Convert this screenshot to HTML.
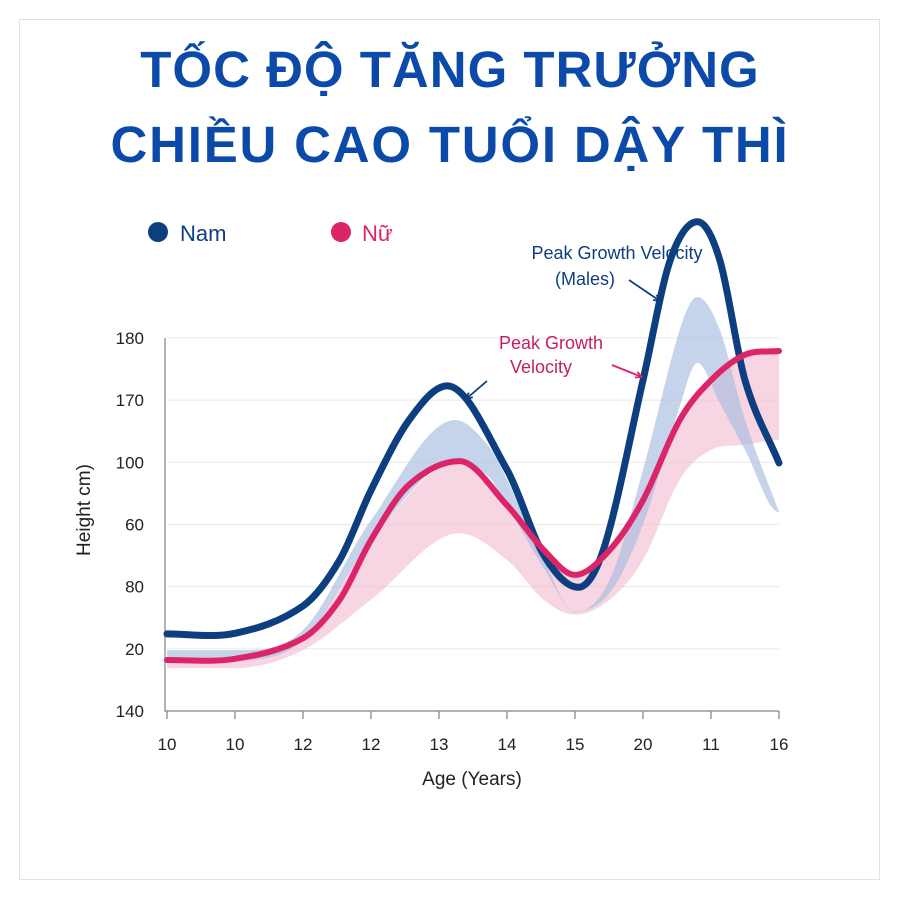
<!DOCTYPE html>
<html><head><meta charset="utf-8"><style>
html,body{margin:0;padding:0;background:#fff;}
body{width:900px;height:900px;position:relative;overflow:hidden;font-family:"Liberation Sans","DejaVu Sans",sans-serif;}
.card{position:absolute;left:19px;top:19px;width:861px;height:861px;border:1px solid #e2e2e2;box-sizing:border-box;}
.title{position:absolute;left:0;width:900px;text-align:center;color:#0b4aa8;font-weight:bold;font-size:51px;white-space:nowrap;}
</style></head><body>
<div class="card"></div>
<div class="title" style="top:40px;letter-spacing:1px">TỐC ĐỘ TĂNG TRƯỞNG</div>
<div class="title" style="top:115px;letter-spacing:1.8px">CHIỀU CAO TUỔI DẬY THÌ</div>
<svg id="chart" width="900" height="900" style="position:absolute;left:0;top:0"></svg>
<script>
const xLabels=["10","10","12","12","13","14","15","20","11","16"];
const yLabels=["140","20","80","60","100","170","180"];
const maleX=[0,1,2,2.54,3,3.56,4.12,5,5.54,6.05,6.44,7,7.4,7.8,8.13,8.5,9];
const maleY=[1.24,1.25,1.69,2.43,3.55,4.68,5.23,3.88,2.51,1.99,2.67,5.32,7.25,7.87,7.25,5.32,3.99];
const femX=[0,1,2,2.54,3,3.56,4.3,5,5.54,6,6.51,7,7.54,8,8.5,9];
const femY=[0.82,0.84,1.17,1.79,2.75,3.64,4.02,3.31,2.59,2.19,2.59,3.39,4.68,5.32,5.73,5.79];
const blueBandX=[0,1,2,3,4.24,4.7,5,5.54,6,6.51,7,7.54,7.8,8.13,8.5,9];
const blueHi=[0.98,0.98,1.3,3.07,4.68,4.3,3.72,2.43,1.59,2.11,3.88,6.13,6.66,6.13,4.68,3.2];
const blueLo=[0.82,0.82,1.14,2.75,3.99,3.8,3.3,2.3,1.6,1.9,3.0,4.9,5.6,4.95,4.2,3.2];
const pinkBandX=[0,1,2,3,4.3,5,5.54,6,6.51,7,7.54,8,8.5,9];
const pinkHi=[0.82,0.84,1.17,2.75,4.02,3.31,2.59,2.19,2.59,3.39,4.68,5.32,5.73,5.79];
const pinkLo=[0.69,0.69,0.98,1.79,2.86,2.43,1.79,1.55,1.79,2.43,3.72,4.2,4.28,4.36];
const svg=document.getElementById('chart');
const NS='http://www.w3.org/2000/svg';
const X0=167,XS=68,Y0=711,YS=62.17;
const sx=i=>X0+i*XS, sy=v=>Y0-v*YS;
function mk(t,a,p){const e=document.createElementNS(NS,t);for(const k in a)e.setAttribute(k,a[k]);(p||svg).appendChild(e);return e;}
function pts(xs,ys){return xs.map((x,i)=>[sx(x),sy(ys[i])]);}
function smooth(P,move){
 const n=P.length,m=[];
 for(let i=0;i<n;i++){
  if(i==0){m[i]=0;continue;}
  if(i==n-1){m[i]=(P[i][1]-P[i-1][1])/(P[i][0]-P[i-1][0]);continue;}
  const a=P[i][1]-P[i-1][1],b=P[i+1][1]-P[i][1];
  m[i]=(a*b<=0)?0:(P[i+1][1]-P[i-1][1])/(P[i+1][0]-P[i-1][0]);
 }
 let s=(move?'M':'L')+P[0][0]+','+P[0][1];
 for(let i=0;i<n-1;i++){const h=(P[i+1][0]-P[i][0])/3;
  s+=' C'+(P[i][0]+h)+','+(P[i][1]+m[i]*h)+' '+(P[i+1][0]-h)+','+(P[i+1][1]-m[i+1]*h)+' '+P[i+1][0]+','+P[i+1][1];}
 return s;}
function smoothRev(P){
 const Q=P.map(p=>[-p[0],p[1]]);
 const s=smooth(Q,false);
 return s.replace(/(-?[\d.]+),(-?[\d.]+)/g,(a,x,y)=>(-parseFloat(x))+','+y);}
function band(xs,hi,lo){const a=pts(xs,hi),b=pts(xs,lo).reverse();return smooth(a,true)+' '+smoothRev(b)+' Z';}
yLabels.forEach((l,i)=>{
 if(i>0){const g=mk('line',{x1:X0,x2:779,y1:sy(i),y2:sy(i),stroke:'#ececec','stroke-width':1.2});
 
 }
 const t=mk('text',{x:144,y:sy(i)+6,'text-anchor':'end','font-size':17,fill:'#222'});t.textContent=l;
 
 
});
const ax=mk('path',{d:`M${X0-2},${sy(6)} L${X0-2},${Y0} L779,${Y0}`,stroke:'#999',fill:'none','stroke-width':1.5});


xLabels.forEach((l,i)=>{
 const tk=mk('line',{x1:sx(i),x2:sx(i),y1:Y0,y2:Y0+8,stroke:'#999','stroke-width':1.5});
 
 
 const t=mk('text',{x:sx(i),y:Y0+39,'text-anchor':'middle','font-size':17,fill:'#222'});t.textContent=l;
 
 
});
const pb=mk('path',{d:band(pinkBandX,pinkHi,pinkLo),fill:'#f1b9d1','fill-opacity':0.6});


const bb=mk('path',{d:band(blueBandX,blueHi,blueLo),fill:'#a7bde0','fill-opacity':0.65});


const ml=mk('path',{d:smooth(pts(maleX,maleY),true),fill:'none',stroke:'#0d3f80','stroke-width':7,'stroke-linecap':'round'});


const fl=mk('path',{d:smooth(pts(femX,femY),true),fill:'none',stroke:'#dc2468','stroke-width':6,'stroke-linecap':'round'});


const xt=mk('text',{x:472,y:785,'text-anchor':'middle','font-size':19,fill:'#222'});xt.textContent='Age (Years)';


const yt=mk('text',{x:90,y:510,'text-anchor':'middle','font-size':19,fill:'#222',transform:'rotate(-90 90 510)'});yt.textContent='Height cm)';


const lg1=mk('circle',{cx:158,cy:232,r:10,fill:'#0d3f80'});


const lt1=mk('text',{x:180,y:241,'font-size':22,fill:'#0d3f80'});lt1.textContent='Nam';


const lg2=mk('circle',{cx:341,cy:232,r:10,fill:'#dc2468'});


const lt2=mk('text',{x:362,y:241,'font-size':22,fill:'#dc2468'});lt2.textContent='Nữ';


const a1=mk('text',{x:617,y:259,'text-anchor':'middle','font-size':18,fill:'#0d3f80'});a1.textContent='Peak Growth Velocity';


const a2=mk('text',{x:585,y:285,'text-anchor':'middle','font-size':18,fill:'#0d3f80'});a2.textContent='(Males)';


const a3=mk('text',{x:551,y:349,'text-anchor':'middle','font-size':18,fill:'#c41f63'});a3.textContent='Peak Growth';


const a4=mk('text',{x:541,y:373,'text-anchor':'middle','font-size':18,fill:'#c41f63'});a4.textContent='Velocity';


function arrow(x1,y1,x2,y2,c,n){const g=mk('g',{});
 mk('line',{x1,y1,x2,y2,stroke:c,'stroke-width':1.8},g);
 const ang=Math.atan2(y2-y1,x2-x1),L=7;
 mk('path',{d:`M${x2},${y2} L${x2-L*Math.cos(ang-0.45)},${y2-L*Math.sin(ang-0.45)} M${x2},${y2} L${x2-L*Math.cos(ang+0.45)},${y2-L*Math.sin(ang+0.45)}`,stroke:c,'stroke-width':1.8,fill:'none'},g);}
arrow(629,280,660,301,'#0d3f80','male-peak-arrow');
arrow(487,381,466,399,'#0d3f80','male-first-peak-arrow');
arrow(612,365,642,377,'#dc2468','female-peak-arrow');
</script>
</body></html>
